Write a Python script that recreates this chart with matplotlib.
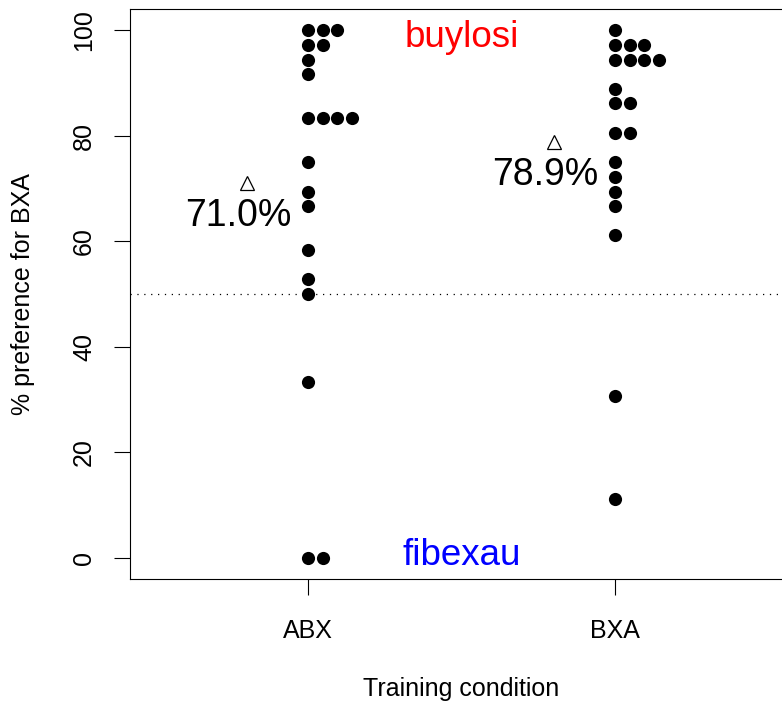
import numpy as np
import matplotlib
matplotlib.use("Agg")
import matplotlib.pyplot as plt

plt.rcParams['font.family'] = ['Liberation Sans', 'DejaVu Sans']

# Data: % preference for BXA per participant, per training condition
conditions = ['ABX', 'BXA']
abx = [100, 100, 100, 97.2, 97.2, 94.4, 91.7, 83.3, 83.3, 83.3, 83.3,
       75.0, 69.4, 66.7, 58.3, 52.8, 50.0, 33.3, 0, 0]
bxa = [100, 97.2, 97.2, 97.2, 94.4, 94.4, 94.4, 94.4, 88.9, 86.1, 86.1,
       80.6, 80.6, 75.0, 72.2, 69.4, 66.7, 61.1, 30.6, 11.1]
groups = [abx, bxa]
top_label = 'buylosi'
bottom_label = 'fibexau'

fig = plt.figure(figsize=(7.82, 7.04), dpi=100)
ax = fig.add_axes([130 / 782, 1 - 579 / 704, 663 / 782, 570 / 704])

step = 0.048  # horizontal stacking step for equal values
for i, vals in enumerate(groups):
    pos = i + 1
    counts = {}
    xs = []
    for v in vals:
        k = counts.get(v, 0)
        xs.append(pos + k * step)
        counts[v] = k + 1
    ax.scatter(xs, vals, s=90, color='black', zorder=3, linewidths=0)
    m = np.mean(vals)
    ax.plot(pos - 0.2, m, marker='^', ms=10.5, mfc='white', mec='black', mew=0.9)
    ax.annotate('%.1f%%' % m, (pos - 0.2, m), xytext=(-6, -31),
                textcoords='offset points', ha='center', va='baseline',
                fontsize=27)

ax.axhline(50, color='black', lw=0.9, linestyle=(0, (1, 4.5)))

ax.annotate(top_label, (1.5, 100), xytext=(0, -12.2), textcoords='offset points',
            ha='center', va='baseline', fontsize=26.5, color='#ff0000')
ax.annotate(bottom_label, (1.5, 0), xytext=(0, -5), textcoords='offset points',
            ha='center', va='baseline', fontsize=26.5, color='#0000ff')

ax.set_xlim(0.42, 2.58)
ax.set_ylim(-4, 104)
ax.set_xticks([1, 2])
ax.set_xticklabels(conditions)
ax.set_yticks([0, 20, 40, 60, 80, 100])
ax.set_yticklabels(['0', '20', '40', '60', '80', '100'], rotation=90, va='center')
ax.tick_params(direction='out', length=11.5, width=0.8, labelsize=18)
ax.tick_params(axis='x', pad=17)
ax.tick_params(axis='y', pad=13)
for s in ax.spines.values():
    s.set_linewidth(0.8)

ax.set_xlabel('Training condition', fontsize=18, va='center')
ax.xaxis.set_label_coords(0.5, -(689 - 579) / 570)
ax.set_ylabel('% preference for BXA', fontsize=18, va='center')
ax.yaxis.set_label_coords(-(130 - 23) / 663, 0.5)

fig.savefig('out.png', dpi=100)
